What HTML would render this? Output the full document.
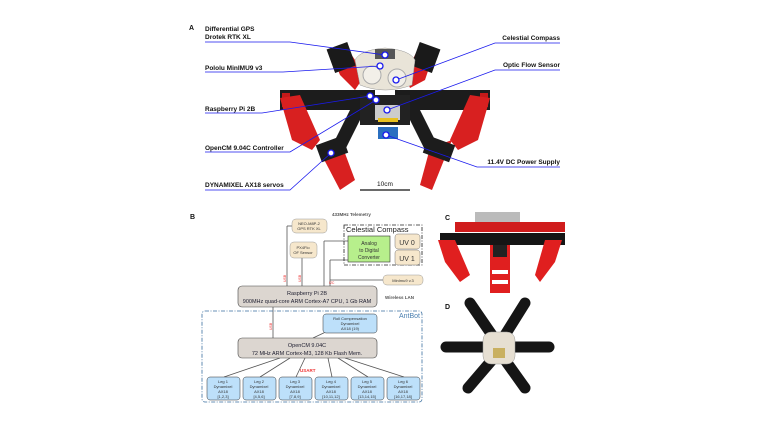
<!DOCTYPE html>
<html><head><meta charset="utf-8"><style>
html,body{margin:0;padding:0;background:#fff;}
svg{display:block}
text{font-family:"Liberation Sans",sans-serif;}
</style></head><body>
<svg width="759" height="422" viewBox="0 0 759 422" xmlns="http://www.w3.org/2000/svg">
<rect width="759" height="422" fill="#fff"/>
<!-- ===== Panel A robot ===== -->
<g>
<!-- back legs red -->
<polygon points="330,50 345,45 365,75 355,90 340,75" fill="#d81e1e"/>
<polygon points="420,45 435,50 425,80 410,88 405,75" fill="#d81e1e"/>
<rect x="330" y="45" width="22" height="25" fill="#1a1a1a" transform="rotate(-20 341 57)"/>
<rect x="415" y="45" width="22" height="25" fill="#1a1a1a" transform="rotate(20 426 57)"/>
<!-- side arms -->
<rect x="280" y="90" width="95" height="20" fill="#1c1c1c"/>
<rect x="395" y="90" width="95" height="20" fill="#1c1c1c"/>
<rect x="282" y="93" width="8" height="14" fill="#c41a1a"/>
<rect x="480" y="93" width="8" height="14" fill="#c41a1a"/>
<!-- side legs red -->
<polygon points="280,98 300,95 320,140 312,150 292,140" fill="#d82020"/>
<polygon points="490,98 470,95 450,140 458,150 478,140" fill="#d82020"/>
<!-- front legs -->
<polygon points="350,110 365,110 345,150 330,150" fill="#1c1c1c"/>
<polygon points="405,110 420,110 440,150 425,150" fill="#1c1c1c"/>
<polygon points="318,148 340,140 355,180 340,190" fill="#d82020"/>
<polygon points="452,140 430,148 420,185 432,190" fill="#d82020"/>
<rect x="318" y="140" width="28" height="18" fill="#1c1c1c" transform="rotate(-20 332 149)"/>
<rect x="425" y="140" width="28" height="18" fill="#1c1c1c" transform="rotate(20 439 149)"/>
<!-- body -->
<rect x="360" y="95" width="50" height="30" fill="#222"/>
<rect x="375" y="105" width="25" height="15" fill="#ccc"/>
<rect x="378" y="118" width="20" height="4" fill="#e8c020"/>
<rect x="378" y="127" width="20" height="12" fill="#2a6fc0"/>
<path d="M355,60 Q360,50 385,48 Q410,50 415,60 L412,85 Q385,95 360,85 Z" fill="#e9e4d8" stroke="#999" stroke-width="0.5"/>
<circle cx="372" cy="75" r="9" fill="#f2efe8" stroke="#aaa"/>
<circle cx="397" cy="78" r="9" fill="#f2efe8" stroke="#aaa"/>
<rect x="375" y="49" width="20" height="10" fill="#555"/>
</g>
<!-- connectors A -->
<g stroke="#1a1aee" stroke-width="0.8" fill="none">
<polyline points="205,42 290,42 385,55"/>
<polyline points="205,72 283,72 380,66"/>
<polyline points="205,113 262,113 370,96"/>
<polyline points="205,152 290,152 376,100"/>
<polyline points="205,190 290,190 331,153"/>
<polyline points="560,43 495,43 396,80"/>
<polyline points="560,70 495,70 387,110"/>
<polyline points="560,167 477,167 386,135"/>
</g>
<g fill="#fff" stroke="#1a1aee" stroke-width="1.3">
<circle cx="385" cy="55" r="3"/><circle cx="380" cy="66" r="3"/><circle cx="370" cy="96" r="3"/>
<circle cx="376" cy="100" r="3"/><circle cx="331" cy="153" r="3"/><circle cx="396" cy="80" r="3"/>
<circle cx="387" cy="110" r="3"/><circle cx="386" cy="135" r="3"/>
</g>
<g font-size="6.5" font-weight="bold" fill="#111">
<text x="189" y="30" font-size="7">A</text>
<text x="205" y="31">Differential GPS</text>
<text x="205" y="39">Drotek RTK XL</text>
<text x="205" y="70">Pololu MinIMU9 v3</text>
<text x="205" y="111">Raspberry Pi 2B</text>
<text x="205" y="150">OpenCM 9.04C Controller</text>
<text x="205" y="187">DYNAMIXEL AX18 servos</text>
<text x="560" y="40" text-anchor="end">Celestial Compass</text>
<text x="560" y="67" text-anchor="end">Optic Flow Sensor</text>
<text x="560" y="164" text-anchor="end">11.4V DC Power Supply</text>
<text x="385" y="186" text-anchor="middle" font-weight="normal">10cm</text>
</g>
<line x1="360" y1="190" x2="410" y2="190" stroke="#111" stroke-width="1.2"/>

<!-- ===== Panel B ===== -->
<text x="190" y="219" font-size="7" font-weight="bold" fill="#111">B</text>
<g stroke="#555" stroke-width="0.8" fill="none">
<line x1="287" y1="226" x2="287" y2="286"/><line x1="287" y1="226" x2="292" y2="226"/>
<line x1="302" y1="258" x2="302" y2="286"/>
<line x1="324" y1="241" x2="324" y2="286"/>
<line x1="324" y1="241" x2="348" y2="241"/>
<line x1="330" y1="260" x2="348" y2="260"/>
<line x1="330" y1="260" x2="330" y2="286"/>
<line x1="330" y1="280" x2="383" y2="280"/>
<line x1="273" y1="307" x2="273" y2="338"/>
<line x1="313" y1="338" x2="330" y2="330"/>
<line x1="280" y1="358" x2="224" y2="377"/><line x1="290" y1="358" x2="260" y2="377"/>
<line x1="305" y1="358" x2="296" y2="377"/><line x1="328" y1="358" x2="332" y2="377"/>
<line x1="338" y1="358" x2="368" y2="377"/><line x1="345" y1="358" x2="404" y2="377"/>
</g>
<rect x="344" y="225" width="78" height="40" fill="none" stroke="#222" stroke-width="0.8" stroke-dasharray="4,1.5,1,1.5"/>
<rect x="202" y="311" width="220" height="91" rx="3" fill="none" stroke="#3a6fa0" stroke-width="0.8" stroke-dasharray="4,1.5,1,1.5"/>
<rect x="292" y="219" width="35" height="14" rx="4" fill="#f6e7cc" stroke="#999" stroke-width="0.5"/>
<rect x="290" y="242" width="27" height="16" rx="4" fill="#f6e7cc" stroke="#999" stroke-width="0.5"/>
<rect x="348" y="236" width="42" height="26" fill="#b7ef8c" stroke="#333" stroke-width="0.6"/>
<rect x="395" y="234" width="25" height="15" rx="3" fill="#f6e7cc" stroke="#777" stroke-width="0.5"/>
<rect x="395" y="250" width="25" height="15" rx="3" fill="#f6e7cc" stroke="#777" stroke-width="0.5"/>
<rect x="383" y="275" width="40" height="10" rx="4" fill="#f6e7cc" stroke="#999" stroke-width="0.5"/>
<rect x="238" y="286" width="139" height="21" rx="4" fill="#dcd6d0" stroke="#444" stroke-width="0.6"/>
<rect x="323" y="314" width="54" height="19" rx="3" fill="#bde0fa" stroke="#333" stroke-width="0.5"/>
<rect x="238" y="338" width="139" height="20" rx="4" fill="#dcd6d0" stroke="#444" stroke-width="0.6"/>
<g fill="#bde0fa" stroke="#333" stroke-width="0.5">
<rect x="207" y="377" width="33" height="23" rx="3"/><rect x="243" y="377" width="33" height="23" rx="3"/>
<rect x="279" y="377" width="33" height="23" rx="3"/><rect x="315" y="377" width="33" height="23" rx="3"/>
<rect x="351" y="377" width="33" height="23" rx="3"/><rect x="387" y="377" width="33" height="23" rx="3"/>
</g>
<g font-size="4" fill="#333" text-anchor="middle">
<text x="309" y="225">NEO-M8P-2</text><text x="309" y="230">GPS RTK XL</text>
<text x="303" y="249">PX4Flo</text><text x="303" y="254">OF Sensor</text>
<text x="369" y="245" font-size="5">Analog</text><text x="369" y="252" font-size="5">to Digital</text><text x="369" y="259" font-size="5">Converter</text>
<text x="407" y="245" font-size="7">UV 0</text><text x="407" y="261" font-size="7">UV 1</text>
<text x="403" y="282">MinImu9 v.3</text>
<text x="307" y="295" font-size="5.5" fill="#223">Raspberry Pi 2B</text>
<text x="307" y="303" font-size="5.5" fill="#223">900MHz quad-core ARM Cortex-A7 CPU, 1 Gb RAM</text>
<text x="350" y="320">Roll Compensation</text><text x="350" y="325">Dynamixel</text><text x="350" y="330">AX18 (19)</text>
<text x="307" y="347" font-size="5.5" fill="#223">OpenCM 9.04C</text>
<text x="307" y="355" font-size="5.5" fill="#223">72 MHz ARM Cortex-M3, 128 Kb Flash Mem.</text>
<text x="223" y="383">Leg 1</text><text x="223" y="388">Dynamixel</text><text x="223" y="393">AX18</text><text x="223" y="398">[1,2,3]</text>
<text x="259" y="383">Leg 2</text><text x="259" y="388">Dynamixel</text><text x="259" y="393">AX18</text><text x="259" y="398">[4,5,6]</text>
<text x="295" y="383">Leg 3</text><text x="295" y="388">Dynamixel</text><text x="295" y="393">AX18</text><text x="295" y="398">[7,8,9]</text>
<text x="331" y="383">Leg 4</text><text x="331" y="388">Dynamixel</text><text x="331" y="393">AX18</text><text x="331" y="398">[10,11,12]</text>
<text x="367" y="383">Leg 5</text><text x="367" y="388">Dynamixel</text><text x="367" y="393">AX18</text><text x="367" y="398">[13,14,15]</text>
<text x="403" y="383">Leg 6</text><text x="403" y="388">Dynamixel</text><text x="403" y="393">AX18</text><text x="403" y="398">[16,17,18]</text>
</g>
<text x="346" y="232" font-size="7.5" fill="#222">Celestial Compass</text>
<text x="420" y="318" font-size="7" fill="#4a7fb0" text-anchor="end">AntBot</text>
<text x="332" y="216" font-size="4.5" fill="#555" font-weight="bold">433MHz Telemetry</text>
<text x="385" y="299" font-size="4.5" fill="#555" font-weight="bold">Wireless LAN</text>
<text x="300" y="372" font-size="4.5" fill="#e33" font-weight="bold">USART</text>
<g font-size="3.5" fill="#e33">
<text x="286" y="282" transform="rotate(-90 286 282)">USB</text>
<text x="301" y="282" transform="rotate(-90 301 282)">USB</text>
<text x="272" y="330" transform="rotate(-90 272 330)">USB</text>
<text x="329" y="284">I2C</text>
</g>

<!-- ===== Panel C ===== -->
<text x="445" y="220" font-size="7" font-weight="bold" fill="#111">C</text>
<g>
<rect x="475" y="212" width="45" height="10" fill="#bbb"/>
<rect x="455" y="222" width="110" height="10" fill="#d01c1c"/>
<rect x="440" y="233" width="125" height="12" fill="#151515"/>
<polygon points="438,240 455,240 470,275 460,282 445,262" fill="#e01f1f"/>
<polygon points="562,240 545,240 535,275 540,282 555,262" fill="#e01f1f"/>
<rect x="490" y="245" width="20" height="48" fill="#e01f1f"/>
<rect x="492" y="270" width="16" height="4" fill="#fff"/><rect x="492" y="280" width="16" height="4" fill="#fff"/>
<rect x="493" y="245" width="14" height="12" fill="#222"/>
</g>
<!-- ===== Panel D ===== -->
<text x="445" y="309" font-size="7" font-weight="bold" fill="#111">D</text>
<g>
<g stroke="#151515" stroke-width="11" stroke-linecap="round">
<line x1="470" y1="303" x2="492" y2="335"/><line x1="525" y1="303" x2="505" y2="335"/>
<line x1="446" y1="347" x2="485" y2="347"/><line x1="549" y1="347" x2="515" y2="347"/>
<line x1="468" y1="388" x2="492" y2="360"/><line x1="525" y1="388" x2="505" y2="360"/>
</g>
<rect x="483" y="332" width="32" height="32" rx="8" fill="#e6dfd2" stroke="#999" stroke-width="0.5"/>
<rect x="493" y="348" width="12" height="10" fill="#c9b060"/>
</g>
</svg>
</body></html>
